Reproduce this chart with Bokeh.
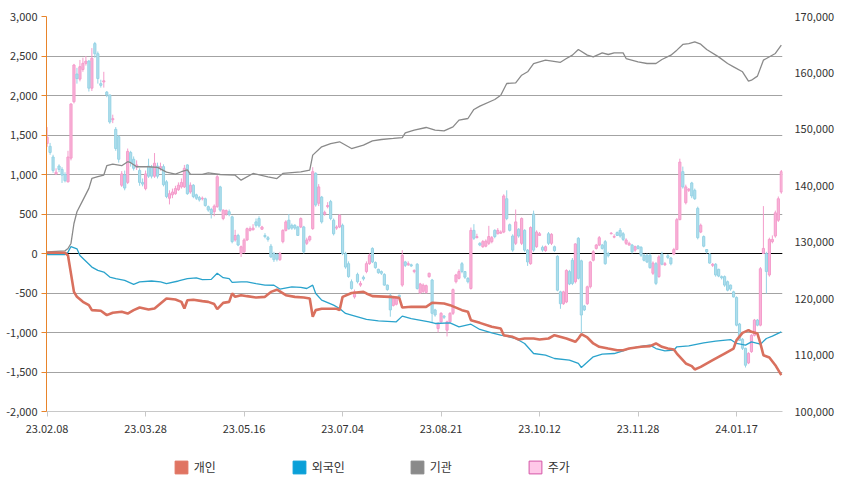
from bokeh.plotting import figure
from bokeh.layouts import column
from bokeh.models import (Range1d, LinearAxis, FixedTicker, NumeralTickFormatter, Span,
                          Legend, LegendItem, ColumnDataSource)
from bokeh.embed import file_html
from bokeh.resources import INLINE

FONT = "Noto Sans CJK KR"

# ---------------- data ----------------
x_tick_days = [0, 33, 66, 99, 132, 165, 198, 231]
x_tick_labels = ["23.02.08", "23.03.28", "23.05.16", "23.07.04", "23.08.21", "23.10.12", "23.11.28", "24.01.17"]
left_ticks = [-2000, -1500, -1000, -500, 0, 500, 1000, 1500, 2000, 2500, 3000]
price_ticks = [100000, 110000, 120000, 130000, 140000, 150000, 160000, 170000]

opens = [147500,147000,145100,142100,143500,142900,142000,140700,144900,154900,
159800,158900,160600,161700,162100,157300,165200,163400,158100,158400,
156600,156100,151700,150000,148700,140100,141900,140600,145900,144700,
143300,142700,140600,139500,143500,143300,141700,143500,143100,143400,
140700,137800,138400,138600,139300,139800,139800,143700,138900,140100,
138400,137900,137700,137700,136300,135800,135400,136300,139800,134200,
135000,135400,134500,130400,131200,128000,128300,130400,132100,132200,
133600,134200,132300,131200,130800,129300,128000,127900,126900,130100,
132100,133900,133000,133000,132700,132700,132700,129800,130400,132400,
142200,136900,138000,135000,136300,137200,133900,132500,132700,133000,
128000,126200,123000,120300,124300,122400,123800,124800,126200,128900,
126400,125200,124800,124300,122400,120600,118800,119000,120600,122400,
126500,126000,126000,124800,126100,121000,121300,121100,123900,123300,
118000,114700,115900,116900,114400,115900,117400,123000,123600,126200,
124800,123600,121800,132100,130800,129800,129200,129300,129800,130100,
132100,131500,131600,131800,137700,133100,131100,129800,132300,129800,
132100,128600,126200,135000,129200,131200,129100,128500,131500,129800,
129200,127500,121200,119100,119400,124800,126800,123000,130700,126700,
118700,119100,122100,126800,128900,129500,129500,130100,128000,131500,
130900,131700,132100,131500,129800,129500,129500,128600,129300,129100,
127700,127700,127700,124500,126200,123900,127900,126000,127600,127200,
127900,128700,134000,142500,137000,139200,140500,139200,136000,131800,
131000,128700,127900,125900,126100,125200,123900,123900,123000,122400,
121200,120200,115500,112800,111200,108600,110600,113500,116200,115300,
128000,128000,124200,130100,131100,133900,138900]

closes = [148600,145900,142700,142400,142900,141900,140900,145100,154500,161400,
159000,161100,161700,162100,157300,162600,163400,159000,157800,158600,
156100,151300,151900,146600,144700,142100,139600,146100,144100,143100,
143700,140600,140300,142100,141700,141700,144000,141700,143400,140200,
138100,138600,138900,139500,140100,140600,143100,138600,140100,138100,
137800,137500,137800,136500,135700,135100,136400,141600,135700,135700,
135600,134900,130100,131200,129500,129200,130400,132400,132400,132500,
133000,132900,132700,131000,130500,127400,126900,127000,128000,132100,
133600,132400,132500,132500,131200,134200,128300,130400,131000,142500,
136600,139800,133600,135300,136500,134200,131500,132700,134800,128000,
125600,123900,121800,121200,123000,122700,123500,126200,127700,126500,
125500,124600,124500,122400,121600,118000,120000,120200,120300,127700,
125900,126200,125800,125000,121800,122600,122400,122300,124500,117400,
117100,115600,117400,116700,115900,117400,121600,124200,124800,124800,
123800,123000,132100,130700,131000,129500,130100,130200,131000,130800,
131000,132100,131800,138200,134200,132100,128600,133600,131100,134200,
128600,126500,132600,128600,131800,131500,128600,129200,129800,131400,
128500,121500,119100,121200,125000,122600,122700,129700,123600,117100,
118000,122100,126500,128300,129500,130800,128900,126200,127600,131600,
131000,131200,131100,130500,130400,129800,128300,129200,128900,127700,
126800,126500,125500,126300,122700,127400,126100,126200,127300,126200,
128700,134000,144200,139800,139800,139400,138200,137700,130800,133000,
129300,128300,126300,126100,124200,124000,123700,122400,121500,121700,
120300,115300,112600,111200,108200,110300,113500,116200,115300,125300,
128900,124800,130500,130500,135200,137700,142500]

highs = [150400,147600,145500,143100,143800,143300,142400,146200,154600,161600,
160900,162300,162700,163000,162300,164400,165500,163800,158800,160200,
156800,156100,152600,150400,149000,142600,142700,146600,146200,145200,
144500,143100,141300,142700,144800,143700,145800,144100,144100,143800,
141000,139200,139500,140000,140600,141300,143700,143800,140600,140300,
138600,138200,138100,137900,136500,136100,136700,141900,140000,135800,
135800,135800,134700,132200,131500,129400,130700,132600,132800,133200,
134200,134600,132900,131600,131100,129700,128300,128000,128300,132300,
133900,135000,133300,133200,132900,134400,132900,130800,131200,143300,
142400,140300,138200,135600,137100,137500,134200,133000,135000,133300,
128300,126600,123400,121600,124600,123100,124100,126600,128000,129100,
126600,125300,125000,124500,122500,120900,120300,120400,120700,128600,
126700,126600,126200,125200,126300,122800,122700,122500,124600,123500,
118200,115800,117600,117100,116100,117600,121800,124400,125200,126500,
124900,123800,132600,133200,131500,130000,130400,130500,132900,131100,
132300,132500,132100,138500,139200,133300,131400,135800,132500,134400,
132300,128800,132800,135600,132100,131800,129400,129400,131800,131600,
129400,127700,121400,121400,125200,125100,127200,129800,130900,126900,
118900,122300,126700,128600,129700,131100,129700,130400,128300,131800,
131400,131900,132500,131800,130700,130100,129700,129400,129500,129300,
128000,128000,128000,126600,126500,127700,128300,126500,127900,127400,
129000,134300,144800,143400,140200,139600,140700,139500,136300,133300,
131200,128800,128100,126300,126300,125300,124100,124100,123200,122500,
121400,120400,115700,113000,111300,110500,113700,116400,116400,125600,
136400,128300,130800,131200,135600,138100,142800]

lows = [146900,145500,142300,141900,142400,140500,140600,140600,144500,154600,
158100,158500,160200,161300,156700,156800,162700,158100,157400,157400,
155700,151000,151100,146200,144100,139800,139200,140300,143400,142700,
142800,140000,139900,139200,141400,141300,141400,141300,142700,139900,
137800,136700,137800,138400,139100,139500,139600,138400,138600,137800,
137500,137200,137400,136300,135400,134200,134600,136100,135400,133900,
134700,134600,129800,130100,129300,127400,128000,130200,131900,132100,
132600,132600,132200,130700,130100,127200,126500,126600,126700,129800,
131900,132200,132200,132200,131100,132500,128000,129500,130100,132200,
136300,136400,133300,134700,136000,133900,131200,132200,132500,127700,
125300,123700,121600,120000,122700,122100,123200,124500,126000,126300,
125300,124400,124200,122300,121400,116800,118600,118800,120200,122100,
125600,125800,125600,124500,121600,120900,121000,120900,123700,115700,
116800,114000,115700,116400,113300,115700,117100,122700,123400,124500,
123500,122700,121600,130400,130700,129300,129000,129100,129500,129800,
130700,131400,131500,131600,133900,131900,128300,129500,130800,129500,
128300,125800,126000,128300,129000,131100,128300,128300,129500,129500,
128300,121300,118200,118900,119200,122400,122400,122700,123400,113800,
117800,118900,121800,126600,128700,129300,128700,126000,127300,131400,
130700,131100,130800,130200,129500,129400,128000,128300,128700,127400,
126600,126300,125300,124200,122400,123700,125900,125800,127000,125900,
127700,128600,133900,139500,136700,138900,137800,137500,130500,131600,
129100,128000,126200,125600,123900,123800,123400,122100,121300,121400,
120200,115100,112500,110900,107800,108400,110400,113300,115100,115100,
127900,120900,123900,129800,130800,133600,138600]

# cumulative net buying (left axis) — readings at given trading-day numbers
ind_days = [0,6,7,8,9,10,12,14,15,18,20,22,25,27,29,31,34,36,38,40,43,45,46,47,49,52,54,56,57,59,
61,62,63,65,67,70,73,75,77,78,80,83,86,88,89,90,92,97,98,99,102,106,107,109,115,118,119,122,127,129,
133,135,139,141,142,145,149,152,153,156,158,160,163,165,168,170,174,177,178,179,181,183,185,188,191,193,
195,199,202,204,206,208,210,211,214,216,217,219,223,227,230,231,233,235,236,238,239,240,242,244,246]
ind_vals = [10,10,-25,-255,-486,-549,-612,-654,-717,-725,-780,-750,-738,-760,-717,-683,-708,-696,-633,-570,
-583,-612,-696,-591,-585,-603,-612,-640,-705,-625,-612,-505,-549,-528,-540,-557,-549,-486,-458,-480,
-528,-549,-557,-570,-800,-717,-700,-700,-717,-549,-500,-485,-506,-540,-549,-561,-684,-675,-675,-624,
-633,-654,-717,-738,-844,-878,-928,-949,-1034,-1055,-1089,-1076,-1076,-1089,-1076,-1034,-1076,-1118,-1076,-1021,
-1063,-1139,-1181,-1203,-1224,-1224,-1203,-1181,-1173,-1139,-1181,-1203,-1215,-1266,-1392,-1426,-1468,-1435,-1350,-1266,
-1203,-1097,-1004,-970,-992,-1013,-1139,-1287,-1316,-1414,-1540]

for_days = [0,6,7,8,10,11,15,17,19,21,23,26,29,31,35,38,40,44,47,50,52,55,57,59,61,62,65,67,70,73,
76,78,82,85,87,89,90,92,96,98,100,102,107,111,117,119,122,128,130,135,138,142,145,149,152,154,157,160,163,167,
170,175,178,179,183,186,190,193,195,200,202,204,207,210,211,215,220,224,229,231,234,236,239,241,243,246]
for_vals = [-13,-13,17,88,59,-25,-172,-214,-235,-298,-319,-340,-390,-360,-348,-360,-381,-348,-319,-308,
-331,-328,-250,-306,-319,-366,-360,-359,-381,-400,-402,-450,-423,-430,-443,-401,-506,-591,-654,-696,
-759,-781,-835,-852,-865,-793,-823,-865,-886,-878,-928,-895,-962,-1004,-1034,-1046,-1076,-1139,-1266,-1287,
-1329,-1350,-1392,-1443,-1308,-1274,-1266,-1232,-1203,-1170,-1160,-1203,-1232,-1224,-1181,-1169,-1131,-1110,-1089,-1139,
-1160,-1118,-1148,-1076,-1046,-992]

inst_days = [0,6,7,8,9,10,12,14,15,17,19,20,22,25,27,28,30,34,37,40,43,45,47,48,52,54,58,63,65,69,
74,77,79,85,88,89,92,95,98,102,106,109,112,116,119,120,123,127,130,133,136,138,141,143,145,150,152,154,157,159,
161,163,167,172,174,176,178,181,183,186,188,190,193,194,198,201,204,206,209,211,213,215,217,219,221,225,228,230,233,235,
236,238,240,241,244,246]
inst_vals = [21,34,63,127,380,528,676,824,950,972,993,1111,1132,1111,1162,1149,1098,1098,1090,1030,
1005,1035,1060,1005,1001,1021,1000,992,928,1013,970,949,1013,1034,1055,1245,1350,1392,1414,1329,
1371,1426,1443,1456,1468,1527,1561,1595,1561,1553,1603,1688,1709,1823,1865,1949,2004,2152,2160,2257,
2300,2405,2447,2420,2468,2511,2582,2511,2489,2540,2519,2540,2540,2468,2426,2405,2405,2456,2511,2574,
2646,2658,2679,2650,2582,2489,2405,2363,2300,2181,2194,2245,2447,2468,2532,2637]

series_names = ["개인", "외국인", "기관", "주가"]

# ---------------- main figure ----------------
p = figure(width=850, height=450, output_backend="svg", toolbar_location=None,
           x_range=Range1d(-0.2, 246.4), y_range=Range1d(-2000, 3000),
           min_border_left=46, min_border_right=68, min_border_top=16, min_border_bottom=39,
           background_fill_color="white", border_fill_color="white")
p.outline_line_color = None
p.extra_y_ranges = {"price": Range1d(100000, 170000)}

p.xgrid.visible = False
p.ygrid.grid_line_color = "#a3a3a3"
p.ygrid.grid_line_width = 1

la = p.yaxis[0]
la.ticker = FixedTicker(ticks=left_ticks)
la.formatter = NumeralTickFormatter(format="0,0")
la.axis_line_color = "#E8842A"
la.major_tick_line_color = "#E8842A"
la.major_tick_out = 5
la.major_tick_in = 0
la.minor_tick_line_color = None
la.major_label_standoff = 4
la.major_label_text_font = FONT
la.major_label_text_font_size = "11px"
la.major_label_text_color = "#333333"

ra = LinearAxis(y_range_name="price", ticker=FixedTicker(ticks=price_ticks),
                formatter=NumeralTickFormatter(format="0,0"))
ra.axis_line_color = None
ra.major_tick_line_color = None
ra.minor_tick_line_color = None
ra.major_label_standoff = 6
ra.major_label_text_font = FONT
ra.major_label_text_font_size = "11px"
ra.major_label_text_color = "#333333"
p.add_layout(ra, "right")

ba = p.xaxis[0]
ba.ticker = FixedTicker(ticks=x_tick_days)
ba.major_label_overrides = {d: lab for d, lab in zip(x_tick_days, x_tick_labels)}
ba.axis_line_color = "#c8c8c8"
ba.major_tick_line_color = "#c8c8c8"
ba.major_tick_out = 5
ba.major_tick_in = 0
ba.minor_tick_line_color = None
ba.major_label_standoff = 8
ba.major_label_text_font = FONT
ba.major_label_text_font_size = "11px"
ba.major_label_text_color = "#333333"

p.add_layout(Span(location=0, dimension="width", line_color="#000000", line_width=1, level="underlay"))

# candles
UP_FILL, UP_LINE = "#F9B3D8", "#F49CCB"
DN_FILL, DN_LINE = "#B0DEEC", "#96D3E5"
up = {"x": [], "o": [], "h": [], "l": [], "c": [], "top": [], "bot": []}
dn = {"x": [], "o": [], "h": [], "l": [], "c": [], "top": [], "bot": []}
for i, (o, h, l, c) in enumerate(zip(opens, highs, lows, closes)):
    d = up if c >= o else dn
    d["x"].append(i); d["o"].append(o); d["h"].append(h); d["l"].append(l); d["c"].append(c)
    d["top"].append(max(o, c)); d["bot"].append(min(o, c))
for d, fc, lc in ((up, UP_FILL, UP_LINE), (dn, DN_FILL, DN_LINE)):
    src = ColumnDataSource(d)
    p.segment(x0="x", y0="l", x1="x", y1="h", source=src, line_color=lc, line_width=1,
              y_range_name="price")
    p.vbar(x="x", width=0.72, top="top", bottom="bot", source=src, fill_color=fc,
           line_color=lc, line_width=1, y_range_name="price")

# investor lines
p.line(inst_days, inst_vals, line_color="#8a8a8a", line_width=1.3)
p.line(for_days, for_vals, line_color="#2AA3CC", line_width=1.3)
p.line(ind_days, ind_vals, line_color="#D9705E", line_width=2.6)

# ---------------- legend strip ----------------
lf = figure(width=850, height=36, output_backend="svg", toolbar_location=None,
            x_range=Range1d(0, 1), y_range=Range1d(0, 1), x_axis_type=None, y_axis_type=None,
            min_border_left=0, min_border_right=0, min_border_top=0, min_border_bottom=0,
            background_fill_color="white", border_fill_color="white")
lf.outline_line_color = None
lf.xgrid.visible = False
lf.ygrid.visible = False
swatch_styles = [("#E07462", "#E07462"), ("#0AA0D8", "#0AA0D8"), ("#8a8a8a", "#8a8a8a"), ("#FFC8E8", "#D455A6")]
items = []
for name, (fc, lc) in zip(series_names, swatch_styles):
    # legend-key renderer, kept outside the strip's visible range
    r = lf.quad(left=[5], right=[6], top=[6], bottom=[5], fill_color=fc, line_color=lc, line_width=1)
    items.append(LegendItem(label=name, renderers=[r]))
lg = Legend(items=items, location=(126.7, 10.7), orientation="horizontal", padding=0, margin=0,
            spacing=0, border_line_color=None, background_fill_alpha=0,
            glyph_width=16, glyph_height=16, label_height=16, label_width=97,
            label_standoff=5, label_text_font=FONT, label_text_font_size="12px",
            label_text_color="#333333", label_text_baseline="middle")
lf.add_layout(lg)

open("out.html", "w").write(file_html(column(p, lf), INLINE))
